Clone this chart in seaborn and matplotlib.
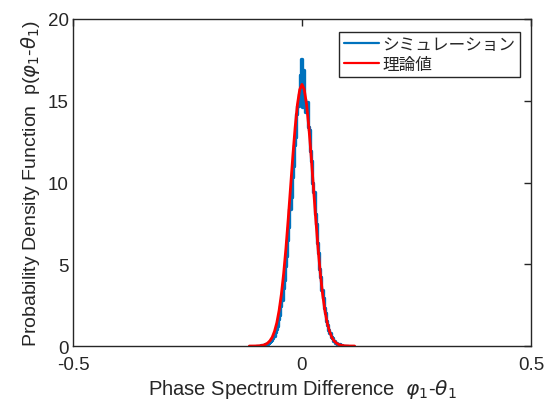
import matplotlib

matplotlib.use("Agg")
import matplotlib.pyplot as plt
import numpy as np
import pandas as pd
import seaborn as sns

# histogram of simulated phase differences (bin width 0.0025, -0.1 .. 0.1)
bin_width = 0.0025
bin_range = (-0.1, 0.1)
sim_left = [0.0, 0.0, 0.03, 0.0, 0.05, 0.03, 0.08, 0.06, 0.14, 0.10,
            0.17, 0.25, 0.30, 0.38, 0.52, 0.60, 0.86, 1.05, 1.22, 1.65,
            1.90, 2.45, 2.82, 3.55, 4.05, 4.90, 5.50, 6.50, 7.25, 8.40,
            9.10, 10.35, 11.00, 12.30, 12.80, 14.20, 14.70, 15.40, 16.60, 17.55]
sim_right = [14.60, 16.90, 15.10, 14.30, 14.90, 13.40, 13.20, 11.90, 11.30, 10.00,
             9.40, 8.10, 7.45, 6.30, 5.70, 4.70, 4.20, 3.40, 2.95, 2.30,
             2.00, 1.55, 1.30, 0.95, 0.82, 0.58, 0.50, 0.33, 0.30, 0.18,
             0.16, 0.09, 0.10, 0.05, 0.04, 0.02, 0.03, 0.0, 0.01, 0.0]
sim_density = sim_left + sim_right

# theoretical pdf
theory_half_x = [0.0, 0.005, 0.010, 0.015, 0.020, 0.025, 0.030, 0.035, 0.040, 0.045,
                 0.050, 0.055, 0.060, 0.065, 0.070, 0.075, 0.080, 0.085, 0.090, 0.095,
                 0.100, 0.105, 0.110, 0.115]
theory_half_y = [16.0, 15.68, 14.77, 13.36, 11.62, 9.70, 7.79, 6.00, 4.45, 3.17,
                 2.17, 1.42, 0.90, 0.54, 0.32, 0.18, 0.096, 0.049, 0.025, 0.012,
                 0.005, 0.002, 0.001, 0.0]

x_ticks = [-0.5, 0, 0.5]
x_tick_labels = ["-0.5", "0", "0.5"]
y_ticks = [0, 5, 10, 15, 20]

theory_x = [-v for v in theory_half_x[:0:-1]] + theory_half_x
theory_y = theory_half_y[:0:-1] + theory_half_y
n_bins = len(sim_density)
bin_centers = bin_range[0] + bin_width * (np.arange(n_bins) + 0.5)
hist_df = pd.DataFrame({"x": bin_centers, "w": sim_density})

sns.set_theme(style="white")
plt.rcParams["font.family"] = ["Liberation Sans", "Noto Sans CJK JP", "DejaVu Sans"]
plt.rcParams["mathtext.fontset"] = "dejavusans"

fig = plt.figure(figsize=(5.58, 4.14), dpi=100)
ax = fig.add_axes([0.1308, 0.1618, 0.8208, 0.7899])

sns.histplot(data=hist_df, x="x", weights="w", binwidth=bin_width, binrange=bin_range,
             element="step", fill=False, color="#0072BD", linewidth=2.4, ax=ax,
             label="シミュレーション")
sns.lineplot(x=theory_x, y=theory_y, color="#FF0000", linewidth=2, ax=ax, label="理論値")

ax.set_xlim(-0.5, 0.5)
ax.set_ylim(0, 20)
ax.set_xticks(x_ticks)
ax.set_xticklabels(x_tick_labels)
ax.set_yticks(y_ticks)
ax.tick_params(direction="in", length=5, width=1, colors="#262626", labelsize=13.5,
               top=True, right=True, labeltop=False, labelright=False)
ax.tick_params(axis="x", pad=7)
ax.tick_params(axis="y", pad=3)
for s in ax.spines.values():
    s.set_color("#262626")
    s.set_linewidth(1)

ax.set_xlabel(r"Phase Spectrum Difference  $\varphi_1$-$\theta_1$", fontsize=14.5,
              color="#262626", labelpad=3)
ax.set_ylabel(r"Probability Density Function  p($\varphi_1$-$\theta_1$)", fontsize=14,
              color="#262626", labelpad=4)

leg = ax.legend(loc="upper right", bbox_to_anchor=(0.976, 0.960), fontsize=12,
                frameon=True, fancybox=False, edgecolor="#262626", framealpha=1,
                handlelength=2.1, borderpad=0.3, labelspacing=0.3, handletextpad=0.2,
                borderaxespad=0)
leg.get_frame().set_linewidth(1)
for h in leg.get_lines():
    h.set_linewidth(1.6)

fig.savefig("out.png", dpi=100, facecolor="white")
